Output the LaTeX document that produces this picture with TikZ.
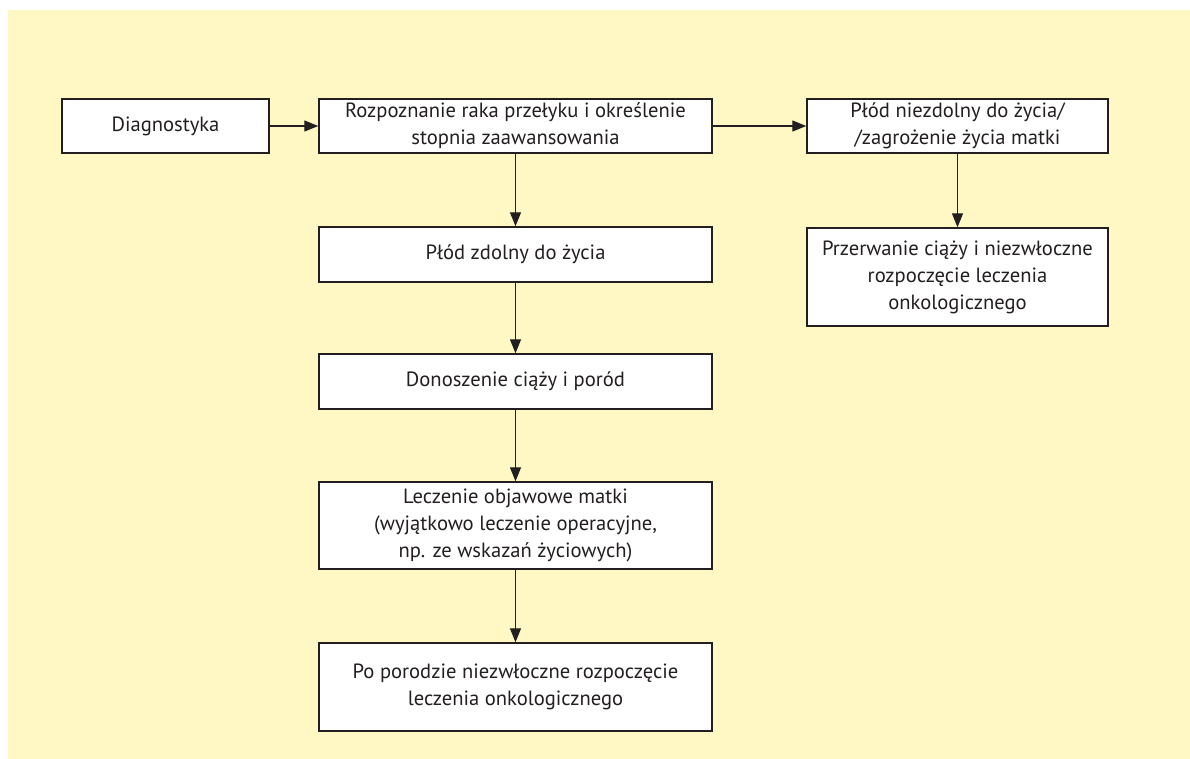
\documentclass[tikz,border=0pt]{standalone}
\usepackage{fontspec}
\setmainfont{PT Sans}
\usetikzlibrary{arrows.meta}
\definecolor{bg}{RGB}{255,248,196}
\definecolor{ink}{RGB}{35,31,32}
\begin{document}
\begin{tikzpicture}[x=1pt,y=-1pt,
  box/.style={draw=ink, fill=white, line width=1.4pt, align=center, text=ink,
    font=\fontsize{20.6}{27}\selectfont, inner sep=0pt},
  arr/.style={draw=ink, line width=1.2pt, -{Triangle[length=14pt,width=11pt]}}]
\useasboundingbox (0,0) rectangle (1190,759);
\fill[bg] (8,10) rectangle (1190,759);
\node[box, minimum width=207, minimum height=54] (d) at (165.5,126) {Diagnostyka};
\node[box, minimum width=393, minimum height=54] (r) at (515.5,126) {Rozpoznanie raka przełyku i określenie\\stopnia zaawansowania};
\node[box, minimum width=301, minimum height=54] (n) at (957.5,126) {Płód niezdolny do życia/\\/zagrożenie życia matki};
\node[box, minimum width=301, minimum height=98] (p) at (957.5,277) {Przerwanie ciąży i niezwłoczne\\rozpoczęcie leczenia\\onkologicznego};
\node[box, minimum width=393, minimum height=55] (z) at (515.5,254.5) {Płód zdolny do życia};
\node[box, minimum width=393, minimum height=55] (o) at (515.5,381.5) {Donoszenie ciąży i poród};
\node[box, minimum width=393, minimum height=87] (l) at (515.5,525.5) {Leczenie objawowe matki\\(wyjątkowo leczenie operacyjne,\\np. ze wskazań życiowych)};
\node[box, minimum width=393, minimum height=88] (po) at (515.5,687) {Po porodzie niezwłoczne rozpoczęcie\\leczenia onkologicznego};
\draw[arr] (d) -- (r);
\draw[arr] (r) -- (n);
\draw[arr] (n) -- (p);
\draw[arr] (r) -- (z);
\draw[arr] (z) -- (o);
\draw[arr] (o) -- (l);
\draw[arr] (l) -- (po);
\end{tikzpicture}
\end{document}
